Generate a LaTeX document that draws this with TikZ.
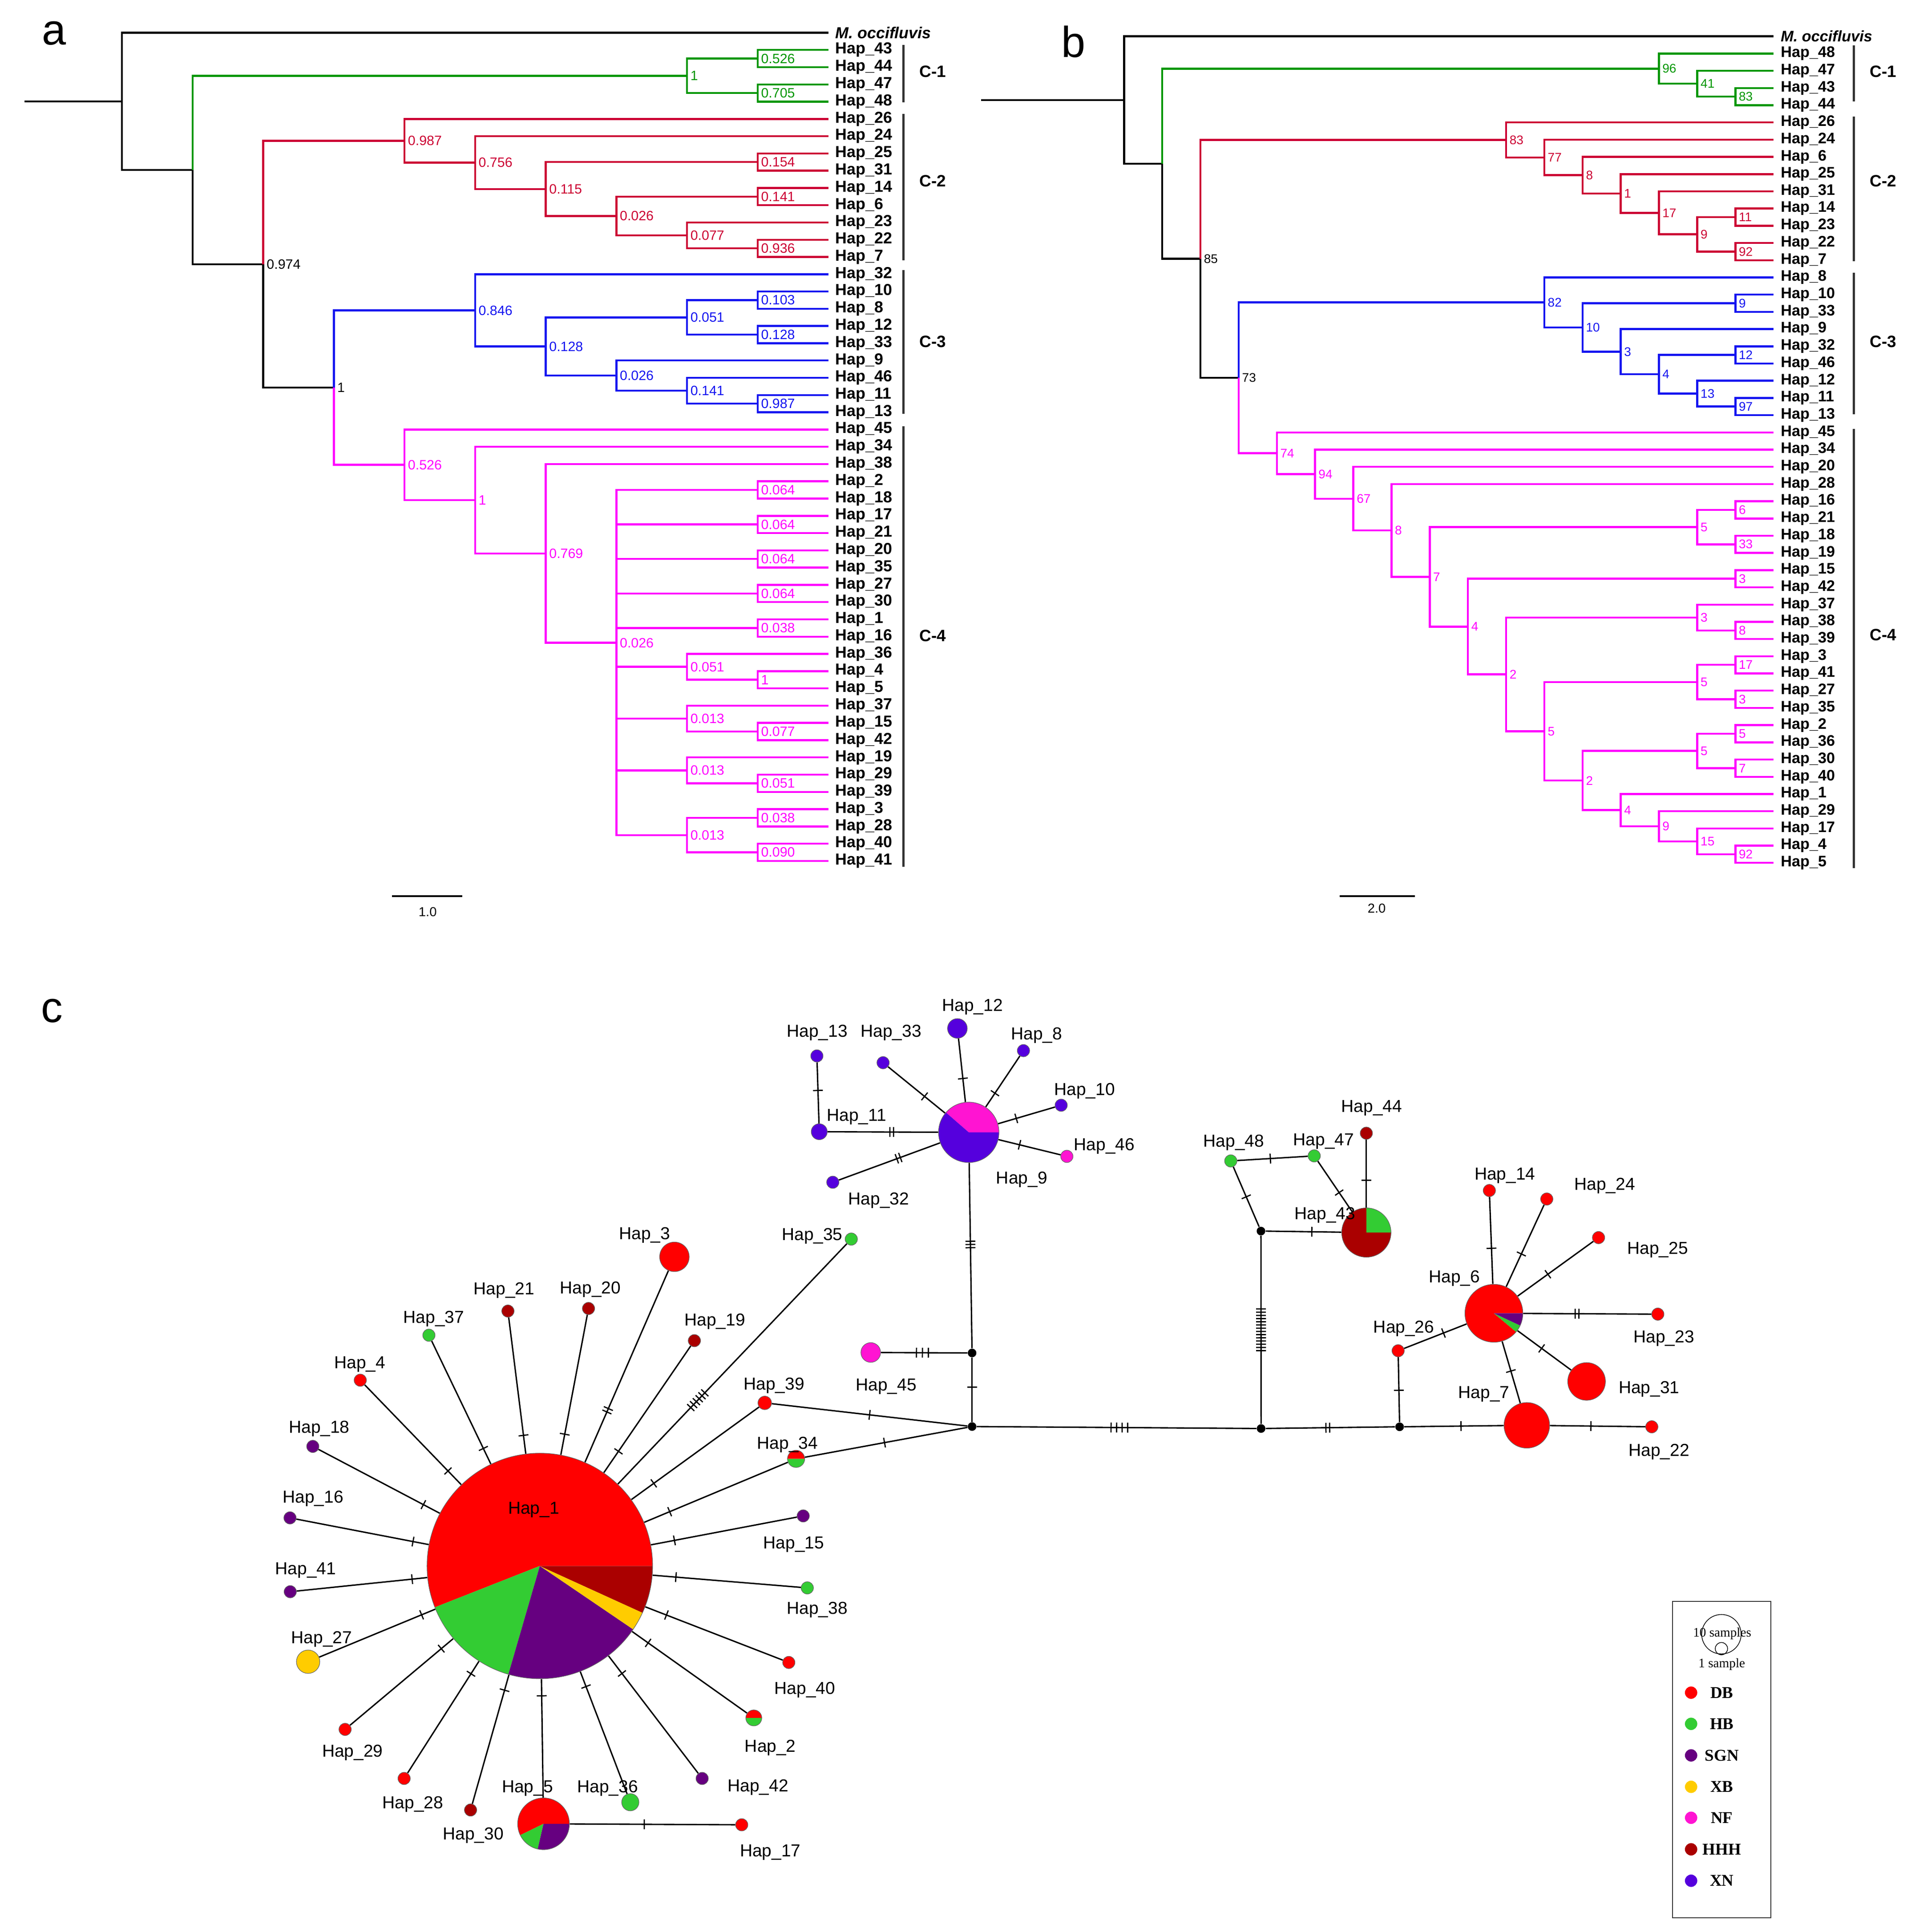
\documentclass[tikz,border=0pt]{standalone}
\usepackage{fontspec}
\setmainfont{Liberation Sans}
\newfontfamily\legfont{Liberation Serif}
\usetikzlibrary{decorations.markings,backgrounds}
\definecolor{cgreen}{RGB}{0,150,0}
\definecolor{cred}{RGB}{204,0,51}
\definecolor{cblue}{RGB}{20,20,240}
\definecolor{cpink}{RGB}{255,0,255}
\definecolor{DB}{RGB}{255,0,0}
\definecolor{HB}{RGB}{51,204,51}
\definecolor{SGN}{RGB}{102,0,128}
\definecolor{XB}{RGB}{255,204,0}
\definecolor{NF}{RGB}{255,20,210}
\definecolor{HHH}{RGB}{170,0,0}
\definecolor{XN}{RGB}{85,0,221}
\newcommand\kids[2]{\foreach \c in {#2}{\draw (#1) |- (\c);}}
\newcommand\tickset[2]{\foreach \q in {1,...,#1}{\draw[line width=0.7pt] ({(\q-(#1+1)/2)*#2},-4) -- ({(\q-(#1+1)/2)*#2},4);}}
\newcommand\slice[5]{\fill[#5] (#1.center) -- ++(#3:#2) arc[start angle=#3,end angle=#4,radius=#2] -- cycle;}
\begin{document}
\begin{tikzpicture}[x=0.25mm,y=-0.25mm,
  br/.style={line width=1.15pt},
  tipa/.style={anchor=west,inner sep=0pt,xshift=1.25mm,text=black,font=\fontsize{9.2}{10}\selectfont\bfseries},
  tipb/.style={anchor=west,inner sep=0pt,xshift=1.25mm,text=black,font=\fontsize{8.8}{10}\selectfont\bfseries},
  supa/.style={anchor=west,inner sep=0pt,xshift=0.5mm,font=\fontsize{7.8}{8}\selectfont},
  supb/.style={anchor=west,inner sep=0pt,xshift=0.5mm,font=\fontsize{7.2}{8}\selectfont},
  clab/.style={font=\fontsize{9.5}{10}\selectfont\bfseries,text=black},
  cbar/.style={line width=1.1pt,black!80},
  edge/.style={line width=0.8pt},
  hn/.style={circle,inner sep=0pt,draw=black!60,line width=0.3pt,minimum size=2.5mm},
  pn/.style={circle,inner sep=0pt},
  jn/.style={circle,fill=black,inner sep=0pt,minimum size=1.75mm},
  lab/.style={font=\fontsize{10}{11}\selectfont,inner sep=0pt},
  tk/.style n args={3}{postaction={decorate,decoration={markings,mark=at position #1 with {\tickset{#2}{#3}}}}}
]
\path[use as bounding box] (0,0) rectangle (1553.7,1567.5);
% panel letters
\node[font=\fontsize{25}{25}\selectfont] (pa) at (44,27) {a};
\node[font=\fontsize{25}{25}\selectfont] (pb) at (871,34) {b};
\node[font=\fontsize{25}{25}\selectfont] (pc) at (42,820) {c};

% ================= TREE A =================
\begin{scope}[shift={(24.75mm,-6.625mm)},x=14.325mm,y=-3.5mm,br]
  \draw (-1.379,3.98) -- (0,3.98);
  \draw (0,3.98) |- (10,0);
  \draw (0,3.98) |- (1,7.959);
  \draw (1,7.959) |- (2,13.418);
  \draw (2,13.418) |- (3,20.57);
  \node[supa] at (2,13.418) {0.974};
  \node[supa] at (3,20.57) {1};
  \begin{scope}[color=cgreen]
    \draw (1,7.959) |- (8,2.5);
    \kids{8,2.5}{{9,1.5},{9,3.5}}
    \kids{9,1.5}{{10,1},{10,2}}
    \kids{9,3.5}{{10,3},{10,4}}
    \foreach \k/\y/\t in {8/2.5/1,9/1.5/0.526,9/3.5/0.705} \node[supa] at (\k,\y) {\t};
  \end{scope}
  \begin{scope}[color=cred]
    \draw (2,13.418) |- (4,6.266);
    \kids{4,6.266}{{10,5},{5,7.531}}
    \kids{5,7.531}{{10,6},{6,9.0625}}
    \kids{6,9.0625}{{9,7.5},{7,10.625}}
    \kids{9,7.5}{{10,7},{10,8}}
    \kids{7,10.625}{{9,9.5},{8,11.75}}
    \kids{9,9.5}{{10,9},{10,10}}
    \kids{8,11.75}{{10,11},{9,12.5}}
    \kids{9,12.5}{{10,12},{10,13}}
    \foreach \k/\y/\t in {4/6.266/0.987,5/7.531/0.756,6/9.0625/0.115,9/7.5/0.154,7/10.625/0.026,9/9.5/0.141,8/11.75/0.077,9/12.5/0.936} \node[supa] at (\k,\y) {\t};
  \end{scope}
  \begin{scope}[color=cblue]
    \draw (3,20.57) |- (5,16.094);
    \kids{5,16.094}{{10,14},{6,18.1875}}
    \kids{6,18.1875}{{8,16.5},{7,19.875}}
    \kids{8,16.5}{{9,15.5},{9,17.5}}
    \kids{9,15.5}{{10,15},{10,16}}
    \kids{9,17.5}{{10,17},{10,18}}
    \kids{7,19.875}{{10,19},{8,20.75}}
    \kids{8,20.75}{{10,20},{9,21.5}}
    \kids{9,21.5}{{10,21},{10,22}}
    \foreach \k/\y/\t in {5/16.094/0.846,6/18.1875/0.128,8/16.5/0.051,9/15.5/0.103,9/17.5/0.128,7/19.875/0.026,8/20.75/0.141,9/21.5/0.987} \node[supa] at (\k,\y) {\t};
  \end{scope}
  \begin{scope}[color=cpink]
    \draw (3,20.57) |- (4,25.045);
    \kids{4,25.045}{{10,23},{5,27.09}}
    \kids{5,27.09}{{10,24},{6,30.18}}
    \kids{6,30.18}{{10,25},{7,35.36}}
    \kids{7,35.36}{{9,26.5},{9,28.5},{9,30.5},{9,32.5},{9,34.5},{8,36.75},{8,39.75},{8,42.75},{8,46.5}}
    \kids{9,26.5}{{10,26},{10,27}}
    \kids{9,28.5}{{10,28},{10,29}}
    \kids{9,30.5}{{10,30},{10,31}}
    \kids{9,32.5}{{10,32},{10,33}}
    \kids{9,34.5}{{10,34},{10,35}}
    \kids{8,36.75}{{10,36},{9,37.5}}
    \kids{9,37.5}{{10,37},{10,38}}
    \kids{8,39.75}{{10,39},{9,40.5}}
    \kids{9,40.5}{{10,40},{10,41}}
    \kids{8,42.75}{{10,42},{9,43.5}}
    \kids{9,43.5}{{10,43},{10,44}}
    \kids{8,46.5}{{9,45.5},{9,47.5}}
    \kids{9,45.5}{{10,45},{10,46}}
    \kids{9,47.5}{{10,47},{10,48}}
    \foreach \k/\y/\t in {4/25.045/0.526,5/27.09/1,6/30.18/0.769,7/35.36/0.026,9/26.5/0.064,9/28.5/0.064,9/30.5/0.064,9/32.5/0.064,9/34.5/0.038,8/36.75/0.051,9/37.5/1,8/39.75/0.013,9/40.5/0.077,8/42.75/0.013,9/43.5/0.051,8/46.5/0.013,9/45.5/0.038,9/47.5/0.090} \node[supa] at (\k,\y) {\t};
  \end{scope}
  \node[tipa,font=\fontsize{9.2}{10}\selectfont\bfseries\itshape] (ta0) at (10,0) {M. occifluvis};
  \foreach \n [count=\i] in {43,44,47,48,26,24,25,31,14,6,23,22,7,32,10,8,12,33,9,46,11,13,45,34,38,2,18,17,21,20,35,27,30,1,16,36,4,5,37,15,42,19,29,39,3,28,40,41}
    \node[tipa] (ta\i) at (10,\i) {Hap\_\n};
  \draw[cbar] (11.065,0.7) -- (11.065,4.05);
  \draw[cbar] (11.065,4.7) -- (11.065,13.2);
  \draw[cbar] (11.065,13.75) -- (11.065,22.1);
  \draw[cbar] (11.065,22.8) -- (11.065,48.35);
  \node[clab] (ca1) at (11.48,2.25) {C-1};
  \node[clab] (ca2) at (11.48,8.6) {C-2};
  \node[clab] (ca3) at (11.48,17.9) {C-3};
  \node[clab] (ca4) at (11.48,34.96) {C-4};
\end{scope}
\draw[line width=1pt] (318,727) -- (375,727);
\node[font=\fontsize{7.5}{8}\selectfont] (sa) at (347,740) {1.0};

% ================= TREE B =================
\begin{scope}[shift={(228mm,-7.375mm)},x=7.75mm,y=-3.4925mm,br]
  \draw (-3.74,3.70) -- (0,3.70);
  \draw (0,3.70) |- (17,0);
  \draw (0,3.70) |- (1,7.40);
  \draw (1,7.40) |- (2,12.92);
  \draw (2,12.92) |- (3,19.83);
  \node[supb] at (2,12.92) {85};
  \node[supb] at (3,19.83) {73};
  \begin{scope}[color=cgreen]
    \draw (1,7.40) |- (14,1.875);
    \kids{14,1.875}{{17,1},{15,2.75}}
    \kids{15,2.75}{{17,2},{16,3.5}}
    \kids{16,3.5}{{17,3},{17,4}}
    \foreach \k/\y/\t in {14/1.875/96,15/2.75/41,16/3.5/83} \node[supb] at (\k,\y) {\t};
  \end{scope}
  \begin{scope}[color=cred]
    \draw (2,12.92) |- (10,6.016);
    \kids{10,6.016}{{17,5},{11,7.031}}
    \kids{11,7.031}{{17,6},{12,8.0625}}
    \kids{12,8.0625}{{17,7},{13,9.125}}
    \kids{13,9.125}{{17,8},{14,10.25}}
    \kids{14,10.25}{{17,9},{15,11.5}}
    \kids{15,11.5}{{16,10.5},{16,12.5}}
    \kids{16,10.5}{{17,10},{17,11}}
    \kids{16,12.5}{{17,12},{17,13}}
    \foreach \k/\y/\t in {10/6.016/83,11/7.031/77,12/8.0625/8,13/9.125/1,14/10.25/17,15/11.5/9,16/10.5/11,16/12.5/92} \node[supb] at (\k,\y) {\t};
  \end{scope}
  \begin{scope}[color=cblue]
    \draw (3,19.83) |- (11,15.453);
    \kids{11,15.453}{{17,14},{12,16.906}}
    \kids{12,16.906}{{16,15.5},{13,18.3125}}
    \kids{16,15.5}{{17,15},{17,16}}
    \kids{13,18.3125}{{17,17},{14,19.625}}
    \kids{14,19.625}{{16,18.5},{15,20.75}}
    \kids{16,18.5}{{17,18},{17,19}}
    \kids{15,20.75}{{17,20},{16,21.5}}
    \kids{16,21.5}{{17,21},{17,22}}
    \foreach \k/\y/\t in {11/15.453/82,12/16.906/10,16/15.5/9,13/18.3125/3,14/19.625/4,16/18.5/12,15/20.75/13,16/21.5/97} \node[supb] at (\k,\y) {\t};
  \end{scope}
  \begin{scope}[color=cpink]
    \draw (3,19.83) |- (4,24.21);
    \kids{4,24.21}{{17,23},{5,25.42}}
    \kids{5,25.42}{{17,24},{6,26.85}}
    \kids{6,26.85}{{17,25},{7,28.69}}
    \kids{7,28.69}{{17,26},{8,31.39}}
    \kids{8,31.39}{{15,28.5},{9,34.28}}
    \kids{15,28.5}{{16,27.5},{16,29.5}}
    \kids{16,27.5}{{17,27},{17,28}}
    \kids{16,29.5}{{17,29},{17,30}}
    \kids{9,34.28}{{16,31.5},{10,37.05}}
    \kids{16,31.5}{{17,31},{17,32}}
    \kids{10,37.05}{{15,33.75},{11,40.36}}
    \kids{15,33.75}{{17,33},{16,34.5}}
    \kids{16,34.5}{{17,34},{17,35}}
    \kids{11,40.36}{{15,37.5},{12,43.22}}
    \kids{15,37.5}{{16,36.5},{16,38.5}}
    \kids{16,36.5}{{17,36},{17,37}}
    \kids{16,38.5}{{17,38},{17,39}}
    \kids{12,43.22}{{15,41.5},{13,44.9375}}
    \kids{15,41.5}{{16,40.5},{16,42.5}}
    \kids{16,40.5}{{17,40},{17,41}}
    \kids{16,42.5}{{17,42},{17,43}}
    \kids{13,44.9375}{{17,44},{14,45.875}}
    \kids{14,45.875}{{17,45},{15,46.75}}
    \kids{15,46.75}{{17,46},{16,47.5}}
    \kids{16,47.5}{{17,47},{17,48}}
    \foreach \k/\y/\t in {4/24.21/74,5/25.42/94,6/26.85/67,7/28.69/8,8/31.39/7,15/28.5/5,16/27.5/6,16/29.5/33,9/34.28/4,16/31.5/3,10/37.05/2,15/33.75/3,16/34.5/8,11/40.36/5,15/37.5/5,16/36.5/17,16/38.5/3,12/43.22/2,15/41.5/5,16/40.5/5,16/42.5/7,13/44.9375/4,14/45.875/9,15/46.75/15,16/47.5/92} \node[supb] at (\k,\y) {\t};
  \end{scope}
  \node[tipb,font=\fontsize{8.8}{10}\selectfont\bfseries\itshape] (tb0) at (17,0) {M. occifluvis};
  \foreach \n [count=\i] in {48,47,43,44,26,24,6,25,31,14,23,22,7,8,10,33,9,32,46,12,11,13,45,34,20,28,16,21,18,19,15,42,37,38,39,3,41,27,35,2,36,30,40,1,29,17,4,5}
    \node[tipb] (tb\i) at (17,\i) {Hap\_\n};
  \draw[cbar] (19.1,0.52) -- (19.1,3.79);
  \draw[cbar] (19.1,4.67) -- (19.1,13.05);
  \draw[cbar] (19.1,13.74) -- (19.1,21.95);
  \draw[cbar] (19.1,22.8) -- (19.1,48.3);
  \node[clab] (cb1) at (19.87,2.04) {C-1};
  \node[clab] (cb2) at (19.87,8.41) {C-2};
  \node[clab] (cb3) at (19.87,17.72) {C-3};
  \node[clab] (cb4) at (19.87,34.75) {C-4};
\end{scope}
\draw[line width=1pt] (1087,727) -- (1148,727);
\node[font=\fontsize{7.5}{8}\selectfont] (sb) at (1117,737) {2.0};

% ================= NETWORK =================
\node[pn,minimum size=45.75mm] (h1) at (438,1270.5) {};
\node[pn,minimum size=10.5mm] (h5) at (441,1479.7) {};
\node[pn,minimum size=12.25mm] (h9) at (786,918.7) {};
\node[pn,minimum size=10mm] (h43) at (1108.6,1000) {};
\node[pn,minimum size=11.75mm] (h6) at (1212.1,1065.5) {};
\node[pn,minimum size=3.5mm] (h34) at (645.9,1183.6) {};
\node[pn,minimum size=3.25mm] (h2) at (611.6,1393.8) {};
\node[hn,fill=DB,minimum size=6mm] (h3) at (547.2,1019.7) {};
\node[hn,fill=HHH] (h21) at (412.1,1063.7) {};
\node[hn,fill=HHH] (h20) at (477.5,1061.6) {};
\node[hn,fill=HB] (h37) at (348,1083.3) {};
\node[hn,fill=DB] (h4) at (292.3,1119.8) {};
\node[hn,fill=SGN] (h18) at (253.8,1173.5) {};
\node[hn,fill=SGN] (h16) at (235.3,1231.5) {};
\node[hn,fill=SGN] (h41) at (235.5,1291.4) {};
\node[hn,fill=XB,minimum size=4.75mm] (h27) at (250,1348.2) {};
\node[hn,fill=DB] (h29) at (280,1403.1) {};
\node[hn,fill=DB] (h28) at (327.9,1442.9) {};
\node[hn,fill=HHH] (h30) at (381.8,1468.5) {};
\node[hn,fill=DB] (h17) at (601.8,1480.5) {};
\node[hn,fill=HB,minimum size=3.5mm] (h36) at (511.4,1462.2) {};
\node[hn,fill=SGN] (h42) at (569.7,1442.9) {};
\node[hn,fill=DB] (h40) at (640,1348.8) {};
\node[hn,fill=HB] (h38) at (655,1288.3) {};
\node[hn,fill=SGN] (h15) at (651.7,1229.9) {};
\node[hn,fill=DB,minimum size=2.75mm] (h39) at (620.5,1138.2) {};
\node[hn,fill=HHH] (h19) at (563.4,1087.7) {};
\node[hn,fill=HB] (h35) at (690.7,1005.3) {};
\node[hn,fill=NF,minimum size=4mm] (h45) at (706.5,1097.3) {};
\node[jn] (j1) at (788.7,1157.4) {};
\node[jn] (j2) at (788.7,1097.7) {};
\node[jn] (j3) at (1023.2,1159) {};
\node[jn] (j4) at (1023.1,998.8) {};
\node[jn] (j5) at (1135.6,1157.6) {};
\node[hn,fill=XN,minimum size=4mm] (h12) at (776.8,834.4) {};
\node[hn,fill=XN] (h8) at (830.4,852.4) {};
\node[hn,fill=XN] (h10) at (861,896.7) {};
\node[hn,fill=NF] (h46) at (865.6,938.2) {};
\node[hn,fill=XN] (h33) at (716.5,862.2) {};
\node[hn,fill=XN] (h13) at (662.8,856.7) {};
\node[hn,fill=XN,minimum size=3.25mm] (h11) at (664.7,918.2) {};
\node[hn,fill=XN] (h32) at (675.7,959.2) {};
\node[hn,fill=HB] (h48) at (998.6,941.9) {};
\node[hn,fill=HB] (h47) at (1066.3,937.8) {};
\node[hn,fill=HHH] (h44) at (1108.6,919.4) {};
\node[hn,fill=DB] (h26) at (1134.4,1095.9) {};
\node[hn,fill=DB] (h14) at (1208.4,965.9) {};
\node[hn,fill=DB] (h24) at (1255,972.8) {};
\node[hn,fill=DB] (h25) at (1297,1004.1) {};
\node[hn,fill=DB] (h23) at (1345.1,1066.2) {};
\node[hn,fill=DB,minimum size=7.65mm] (h31) at (1287.3,1120.8) {};
\node[hn,fill=DB,minimum size=9.25mm] (h7) at (1238.8,1156.4) {};
\node[hn,fill=DB] (h22) at (1340.2,1157.6) {};

% pies
\slice{h1}{22.875mm}{0}{201.5}{DB}
\slice{h1}{22.875mm}{201.5}{253.8}{HB}
\slice{h1}{22.875mm}{253.8}{325.8}{SGN}
\slice{h1}{22.875mm}{325.8}{335.5}{XB}
\slice{h1}{22.875mm}{335.5}{360}{HHH}
\draw[black!60,line width=0.3pt] (h1.center) circle[radius=22.875mm];
\slice{h5}{5.25mm}{0}{206}{DB}
\slice{h5}{5.25mm}{206}{257}{HB}
\slice{h5}{5.25mm}{257}{360}{SGN}
\draw[black!60,line width=0.3pt] (h5.center) circle[radius=5.25mm];
\slice{h9}{6.125mm}{0}{139}{NF}
\slice{h9}{6.125mm}{139}{360}{XN}
\draw[black!60,line width=0.3pt] (h9.center) circle[radius=6.125mm];
\slice{h43}{5mm}{0}{90}{HB}
\slice{h43}{5mm}{90}{360}{HHH}
\draw[black!60,line width=0.3pt] (h43.center) circle[radius=5mm];
\slice{h6}{5.875mm}{0}{320}{DB}
\slice{h6}{5.875mm}{320}{335}{HB}
\slice{h6}{5.875mm}{335}{360}{SGN}
\draw[black!60,line width=0.3pt] (h6.center) circle[radius=5.875mm];
\slice{h34}{1.75mm}{0}{180}{DB}
\slice{h34}{1.75mm}{180}{360}{HB}
\draw[black!60,line width=0.3pt] (h34.center) circle[radius=1.75mm];
\slice{h2}{1.625mm}{0}{180}{DB}
\slice{h2}{1.625mm}{180}{360}{HB}
\draw[black!60,line width=0.3pt] (h2.center) circle[radius=1.625mm];

% edges
\begin{scope}[on background layer]
\fill[white] (0,0) rectangle (1553.7,1567.5);
\draw[edge,tk={11.5mm}{2}{3}] (h1) -- (h3);
\draw[edge,tk={3.75mm}{1}{3}] (h1) -- (h21);
\draw[edge,tk={4.25mm}{1}{3}] (h1) -- (h20);
\draw[edge,tk={3.5mm}{1}{3}] (h1) -- (h37);
\draw[edge,tk={3.85mm}{1}{3}] (h1) -- (h4);
\draw[edge,tk={3.75mm}{1}{3}] (h1) -- (h18);
\draw[edge,tk={3.25mm}{1}{3}] (h1) -- (h16);
\draw[edge,tk={3.1mm}{1}{3}] (h1) -- (h41);
\draw[edge,tk={3mm}{1}{3}] (h1) -- (h27);
\draw[edge,tk={3.15mm}{1}{3}] (h1) -- (h29);
\draw[edge,tk={3mm}{1}{3}] (h1) -- (h28);
\draw[edge,tk={3.25mm}{1}{3}] (h1) -- (h30);
\draw[edge,tk={3.4mm}{1}{3}] (h1) -- (h5);
\draw[edge,tk={3.25mm}{1}{3}] (h1) -- (h36);
\draw[edge,tk={4.5mm}{1}{3}] (h1) -- (h42);
\draw[edge,tk={4mm}{1}{3}] (h1) -- (h2);
\draw[edge,tk={4.6mm}{1}{3}] (h1) -- (h40);
\draw[edge,tk={4.75mm}{1}{3}] (h1) -- (h38);
\draw[edge,tk={4.85mm}{1}{3}] (h1) -- (h15);
\draw[edge,tk={5.6mm}{1}{3}] (h1) -- (h34);
\draw[edge,tk={5.6mm}{1}{3}] (h1) -- (h39);
\draw[edge,tk={23.5mm}{6}{3.3}] (h1) -- (h35);
\draw[edge,tk={5.25mm}{1}{3}] (h1) -- (h19);
\draw[edge,tk={0.45}{1}{3}] (h5) -- (h17);
\draw[edge,tk={0.49}{1}{3}] (h34) -- (j1);
\draw[edge,tk={0.5}{1}{3}] (h39) -- (j1);
\draw[edge,tk={0.48}{3}{4.8}] (h45) -- (j2);
\draw[edge,tk={0.46}{1}{3}] (j2) -- (j1);
\draw[edge,tk={0.44}{3}{2.6}] (h9) -- (j2);
\draw[edge,tk={0.51}{4}{4.5}] (j1) -- (j3);
\draw[edge,tk={0.5}{14}{2.6}] (j4) -- (j3);
\draw[edge,tk={0.5}{1}{3}] (j4) -- (h48);
\draw[edge,tk={0.47}{1}{3}] (h48) -- (h47);
\draw[edge,tk={0.62}{1}{3}] (h47) -- (h43);
\draw[edge,tk={0.61}{1}{3}] (j4) -- (h43);
\draw[edge,tk={0.6}{1}{3}] (h44) -- (h43);
\draw[edge,tk={0.48}{2}{3}] (j3) -- (j5);
\draw[edge,tk={0.49}{1}{3}] (j5) -- (h26);
\draw[edge,tk={0.63}{1}{3}] (h26) -- (h6);
\draw[edge,tk={0.57}{1}{3}] (j5) -- (h7);
\draw[edge,tk={0.43}{1}{3}] (h7) -- (h22);
\draw[edge,tk={0.48}{1}{3}] (h6) -- (h7);
\draw[edge,tk={0.45}{1}{3}] (h6) -- (h31);
\draw[edge,tk={0.42}{2}{3}] (h6) -- (h23);
\draw[edge,tk={0.4}{1}{3}] (h6) -- (h25);
\draw[edge,tk={0.4}{1}{3}] (h6) -- (h24);
\draw[edge,tk={0.41}{1}{3}] (h6) -- (h14);
\draw[edge,tk={0.37}{1}{3}] (h9) -- (h12);
\draw[edge,tk={0.27}{1}{3}] (h9) -- (h8);
\draw[edge,tk={0.32}{1}{3}] (h9) -- (h10);
\draw[edge,tk={0.34}{1}{3}] (h9) -- (h46);
\draw[edge,tk={0.36}{1}{3}] (h9) -- (h33);
\draw[edge,tk={0.42}{2}{3}] (h9) -- (h11);
\draw[edge,tk={0.41}{2}{3}] (h9) -- (h32);
\draw[edge,tk={0.54}{1}{3}] (h11) -- (h13);
\end{scope}

% network labels
\foreach \nm/\x/\y in {1/433/1225,3/523/1002,21/409/1047,20/479/1046,37/352/1070,4/292/1107,18/259/1159,16/254/1216,41/248/1274,27/261/1330,29/286/1422,28/335/1464,30/384/1489,5/428/1451,36/493/1451,17/625/1503,42/615/1450,2/625/1418,40/653/1371,38/663/1306,15/644/1253,34/639/1172,39/628/1124,45/719/1125,19/580/1072,35/659/1003,9/829/957,12/789/817,8/841/840,10/880/885,46/896/930,33/723/838,13/663/838,11/695/906,32/713/974,48/1001/927,47/1074/926,44/1113/899,43/1075/986,14/1221/954,24/1302/962,25/1345/1014,6/1180/1037,26/1139/1078,23/1350/1086,31/1338/1127,7/1204/1131,22/1346/1178}
  \node[lab] (l\nm) at (\x,\y) {Hap\_\nm};

% legend
\draw[line width=0.6pt,black!80] (1357.1,1299.3) rectangle (1436.8,1556);
\draw[line width=0.4pt] (1396.7,1325.9) circle[radius=4mm];
\draw[line width=0.4pt] (1396.7,1337.6) circle[radius=1.25mm];
\node[font=\legfont\fontsize{7.5}{8}\selectfont,inner sep=0pt] (lg10) at (1397.3,1325.4) {10 samples};
\node[font=\legfont\fontsize{7.5}{8}\selectfont,inner sep=0pt] (lg1) at (1397,1350.5) {1 sample};
\foreach \cl/\y in {DB/1373.3,HB/1398.6,SGN/1424.2,XB/1449.7,NF/1474.8,HHH/1500.4,XN/1525.9}{
  \fill[\cl] (1372.1,\y) circle[radius=1.25mm];
  \node[font=\legfont\fontsize{9.5}{10}\selectfont\bfseries,inner sep=0pt] (lg\cl) at (1397,\y) {\cl};
}
\end{tikzpicture}
\end{document}
